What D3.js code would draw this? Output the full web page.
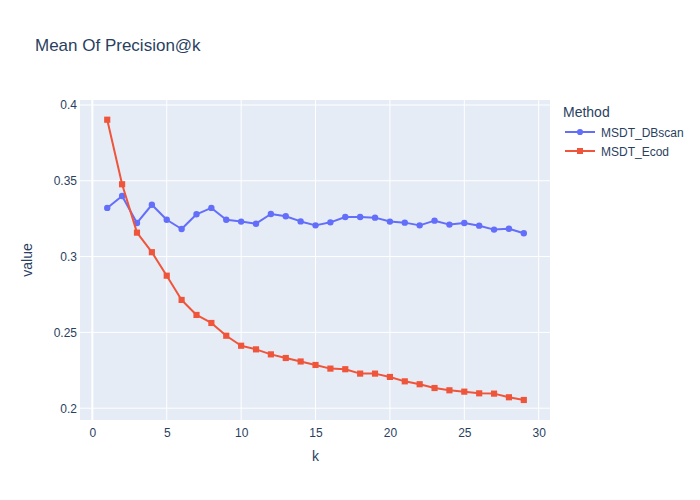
<!DOCTYPE html>
<html>
<head>
<meta charset="utf-8">
<script src="https://cdn.jsdelivr.net/npm/d3@7"></script>
<style>
  body { margin: 0; background: #fff; }
  text { font-family: "Liberation Sans", Arial, sans-serif; fill: #2a3f5f; }
</style>
</head>
<body>
<div id="chart"></div>
<script>
// k values and mean precision for each method
const ks = d3.range(1, 30);
const dbscan = [0.3321, 0.3400, 0.3222, 0.3342, 0.3243, 0.3182, 0.3279, 0.3321, 0.3243, 0.3231,
  0.3217, 0.3281, 0.3266, 0.3232, 0.3206, 0.3226, 0.3261, 0.3261, 0.3257, 0.3231,
  0.3224, 0.3206, 0.3237, 0.3211, 0.3222, 0.3204, 0.3178, 0.3184, 0.3154];
const ecod = [0.3903, 0.3477, 0.3158, 0.3029, 0.2874, 0.2714, 0.2615, 0.2562, 0.2478, 0.2412,
  0.2388, 0.2355, 0.2331, 0.2308, 0.2285, 0.2261, 0.2257, 0.2228, 0.2228, 0.2206,
  0.2177, 0.2158, 0.2133, 0.2118, 0.2109, 0.2098, 0.2096, 0.2072, 0.2054];
const methods = ["MSDT_DBscan", "MSDT_Ecod"];
const xTicks = [0, 5, 10, 15, 20, 25, 30];
const yTicks = [0.2, 0.25, 0.3, 0.35, 0.4];

const width = 700, height = 500;
const margin = { top: 100, right: 150, bottom: 80, left: 80 };

const svg = d3.select("#chart").append("svg")
  .attr("width", width)
  .attr("height", height);

const x = d3.scaleLinear().domain([-0.83, 30.76]).range([margin.left, width - margin.right]);
const y = d3.scaleLinear().domain([0.1922, 0.4033]).range([height - margin.bottom, margin.top]);

// plot background
svg.append("rect")
  .attr("x", margin.left).attr("y", margin.top)
  .attr("width", width - margin.left - margin.right)
  .attr("height", height - margin.top - margin.bottom)
  .attr("fill", "#E5ECF6");

// gridlines
svg.append("g").selectAll("line").data(xTicks).join("line")
  .attr("x1", d => x(d)).attr("x2", d => x(d))
  .attr("y1", margin.top).attr("y2", height - margin.bottom)
  .attr("stroke", "#fff").attr("stroke-width", d => d === 0 ? 2 : 1);
svg.append("g").selectAll("line").data(yTicks).join("line")
  .attr("x1", margin.left).attr("x2", width - margin.right)
  .attr("y1", d => y(d)).attr("y2", d => y(d))
  .attr("stroke", "#fff").attr("stroke-width", 1);

// axes (labels only, plotly style)
const xAxis = svg.append("g")
  .attr("transform", `translate(0,${height - margin.bottom})`)
  .call(d3.axisBottom(x).tickValues(xTicks).tickSize(0).tickPadding(8));
xAxis.select(".domain").remove();
xAxis.selectAll("text").attr("font-size", 12).style("font-family", null).attr("fill", null);

const yAxis = svg.append("g")
  .attr("transform", `translate(${margin.left},0)`)
  .call(d3.axisLeft(y).tickValues(yTicks).tickFormat(d3.format("~g")).tickSize(0).tickPadding(3));
yAxis.select(".domain").remove();
yAxis.selectAll("text").attr("font-size", 12).style("font-family", null).attr("fill", null);

// series
const color = d3.scaleOrdinal().domain(methods).range(["#636efa", "#EF553B"]);
const series = [
  { name: methods[0], values: dbscan, symbol: d3.symbolCircle },
  { name: methods[1], values: ecod, symbol: d3.symbolSquare }
];
const line = d3.line().x((d, i) => x(ks[i])).y(d => y(d));

series.forEach(s => {
  svg.append("path")
    .datum(s.values)
    .attr("fill", "none")
    .attr("stroke", color(s.name))
    .attr("stroke-width", 2)
    .attr("stroke-linejoin", "round")
    .attr("d", line);
  svg.append("g").selectAll("path").data(s.values).join("path")
    .attr("transform", (d, i) => `translate(${x(ks[i])},${y(d)})`)
    .attr("d", d3.symbol().type(s.symbol).size(s.symbol === d3.symbolCircle ? 32 : 38))
    .attr("fill", color(s.name));
});

// title and axis titles
svg.append("text").attr("x", 35).attr("y", 51)
  .attr("font-size", 17).text("Mean Of Precision@k");
svg.append("text").attr("x", x(15)).attr("y", 461)
  .attr("text-anchor", "middle").attr("font-size", 14).text("k");
svg.append("text")
  .attr("transform", `translate(32,${(margin.top + height - margin.bottom) / 2}) rotate(-90)`)
  .attr("text-anchor", "middle").attr("font-size", 14).text("value");

// legend
const legend = svg.append("g").attr("transform", "translate(563,0)");
legend.append("text").attr("x", 0).attr("y", 117).attr("font-size", 14).text("Method");
series.forEach((s, i) => {
  const g = legend.append("g").attr("transform", `translate(0,${132 + i * 19})`);
  g.append("line").attr("x1", 2).attr("x2", 32).attr("stroke", color(s.name)).attr("stroke-width", 2);
  g.append("path").attr("transform", "translate(17,0)")
    .attr("d", d3.symbol().type(s.symbol).size(s.symbol === d3.symbolCircle ? 30 : 36))
    .attr("fill", color(s.name));
  g.append("text").attr("x", 38).attr("y", 4.5).attr("font-size", 12).text(s.name);
});
</script>
</body>
</html>
